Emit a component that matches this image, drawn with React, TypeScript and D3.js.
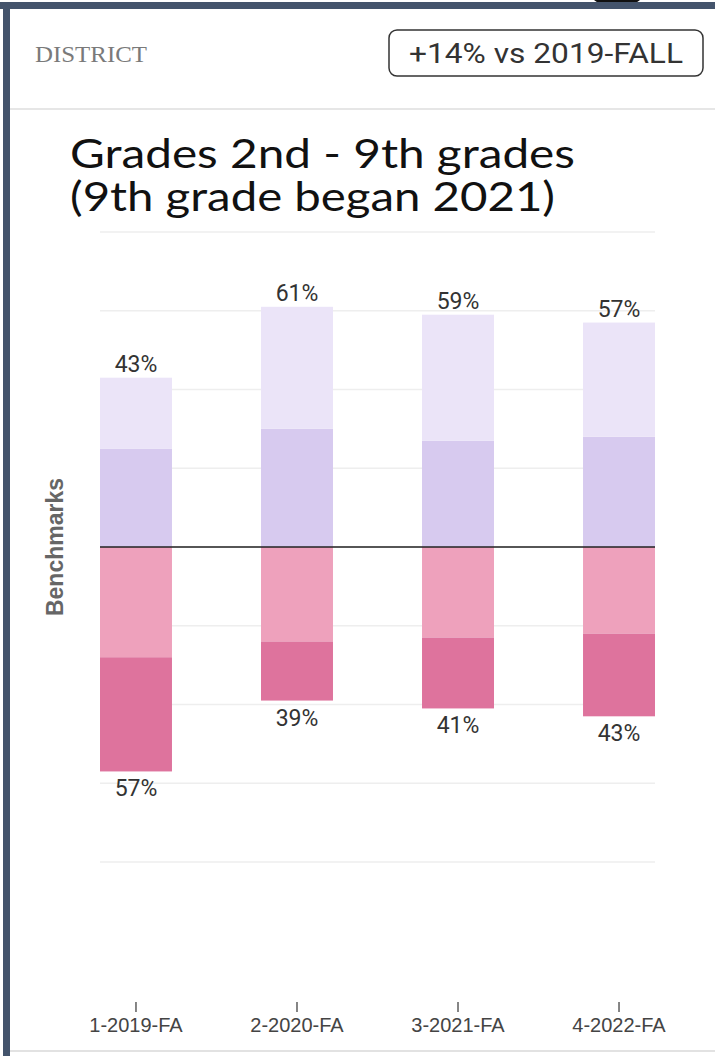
import React from "react";
import * as d3 from "d3";

const categories = ["1-2019-FA", "2-2020-FA", "3-2021-FA", "4-2022-FA"];
const aboveLight = [18, 31, 32, 29];
const aboveMid = [25, 30, 27, 28];
const belowLight = [28, 24, 23, 22];
const belowDark = [29, 15, 18, 21];
const yTicks = [-80, -60, -40, -20, 0, 20, 40, 60, 80];
const titleLines = ["Grades 2nd - 9th grades", "(9th grade began 2021)"];
const headerLabel = "DISTRICT";
const badgeText = "+14% vs 2019-FALL";
const yAxisTitle = "Benchmarks";

const COLORS = {
  aboveLight: "#ebe4f8",
  aboveMid: "#d7caef",
  belowLight: "#eea1bc",
  belowDark: "#de739d",
};

export default function App() {
  const W = 715;
  const H = 1056;
  const x = d3.scaleBand<string>().domain(categories).range([100, 655]).paddingInner(0.553).paddingOuter(0);
  const y = d3.scaleLinear().domain([-80, 80]).range([862, 232]);
  const bw = x.bandwidth();

  const rows = categories.map((c, i) => {
    const pos = aboveMid[i] + aboveLight[i];
    const neg = belowLight[i] + belowDark[i];
    return { c, i, pos, neg };
  });

  const sans = "Roboto, 'Liberation Sans', Arial, sans-serif";
  const titleWidths = [505, 485];

  return (
    <svg width={W} height={H} style={{ position: "absolute", left: 0, top: 0, background: "#fff" }}>
      <rect x={0} y={0} width={W} height={H} fill="#fff" />
      {/* top blob from cropped glyph */}
      <path d="M594,0 Q600,6 617,6 Q634,6 640,0 Z" fill="#111" />
      {/* frame */}
      <rect x={0} y={2} width={W} height={7} fill="#44546c" />
      <rect x={3} y={2} width={7} height={H} fill="#44546c" />
      {/* header */}
      <text x={35} y={62} fontFamily="'Liberation Serif', 'DejaVu Serif', serif" fontSize={24} fill="#7a7a7a"
        textLength={112} lengthAdjust="spacingAndGlyphs">
        {headerLabel}
      </text>
      <rect x={389} y={30} width={314} height={46} rx={8} fill="#fff" stroke="#333" strokeWidth={1.5} />
      <text x={546} y={63} textAnchor="middle" fontFamily={sans} fontSize={27} fill="#333"
        textLength={274} lengthAdjust="spacingAndGlyphs">
        {badgeText}
      </text>
      <line x1={10} x2={W} y1={109} y2={109} stroke="#e6e6e6" strokeWidth={2} />
      {/* title */}
      {titleLines.map((t, i) => (
        <text key={t} x={70} y={168 + i * 43} fontFamily="Lato, 'Open Sans', sans-serif" fontSize={41} fill="#111"
          textLength={titleWidths[i]} lengthAdjust="spacingAndGlyphs">
          {t}
        </text>
      ))}
      {/* gridlines */}
      {yTicks.map((t) => (
        <line key={t} x1={100} x2={655} y1={y(t)} y2={y(t)} stroke="#eeeeee" strokeWidth={1.5} />
      ))}
      {/* bars */}
      {rows.map(({ c, i, pos, neg }) => {
        const x0 = x(c)!;
        return (
          <g key={c}>
            <rect x={x0} width={bw} y={y(aboveMid[i])} height={y(0) - y(aboveMid[i])} fill={COLORS.aboveMid} />
            <rect x={x0} width={bw} y={y(pos)} height={y(aboveMid[i]) - y(pos)} fill={COLORS.aboveLight} />
            <rect x={x0} width={bw} y={y(0)} height={y(-belowLight[i]) - y(0)} fill={COLORS.belowLight} />
            <rect x={x0} width={bw} y={y(-belowLight[i])} height={y(-neg) - y(-belowLight[i])} fill={COLORS.belowDark} />
            <text x={x0 + bw / 2} y={y(pos) - 6} textAnchor="middle" fontFamily={sans} fontSize={23} fill="#333">
              {`${pos}%`}
            </text>
            <text x={x0 + bw / 2} y={y(-neg) + 25} textAnchor="middle" fontFamily={sans} fontSize={23} fill="#333">
              {`${neg}%`}
            </text>
          </g>
        );
      })}
      <line x1={100} x2={655} y1={y(0)} y2={y(0)} stroke="#222" strokeWidth={1.5} />
      {/* y axis title */}
      <text
        transform={`translate(63,${y(0)}) rotate(-90)`}
        textAnchor="middle"
        fontFamily="'Liberation Sans', Arial, sans-serif"
        fontWeight="bold"
        fontSize={23}
        fill="#666"
      >
        {yAxisTitle}
      </text>
      {/* x axis */}
      {categories.map((c) => {
        const cx = x(c)! + bw / 2;
        return (
          <g key={c}>
            <line x1={cx} x2={cx} y1={1002} y2={1012} stroke="#444" strokeWidth={1.3} />
            <text x={cx} y={1032} textAnchor="middle" fontFamily="'Liberation Sans', Arial, sans-serif" fontSize={20} fill="#444">
              {c}
            </text>
          </g>
        );
      })}
      <line x1={10} x2={W} y1={1051} y2={1051} stroke="#e2e2e2" strokeWidth={2} />
    </svg>
  );
}
